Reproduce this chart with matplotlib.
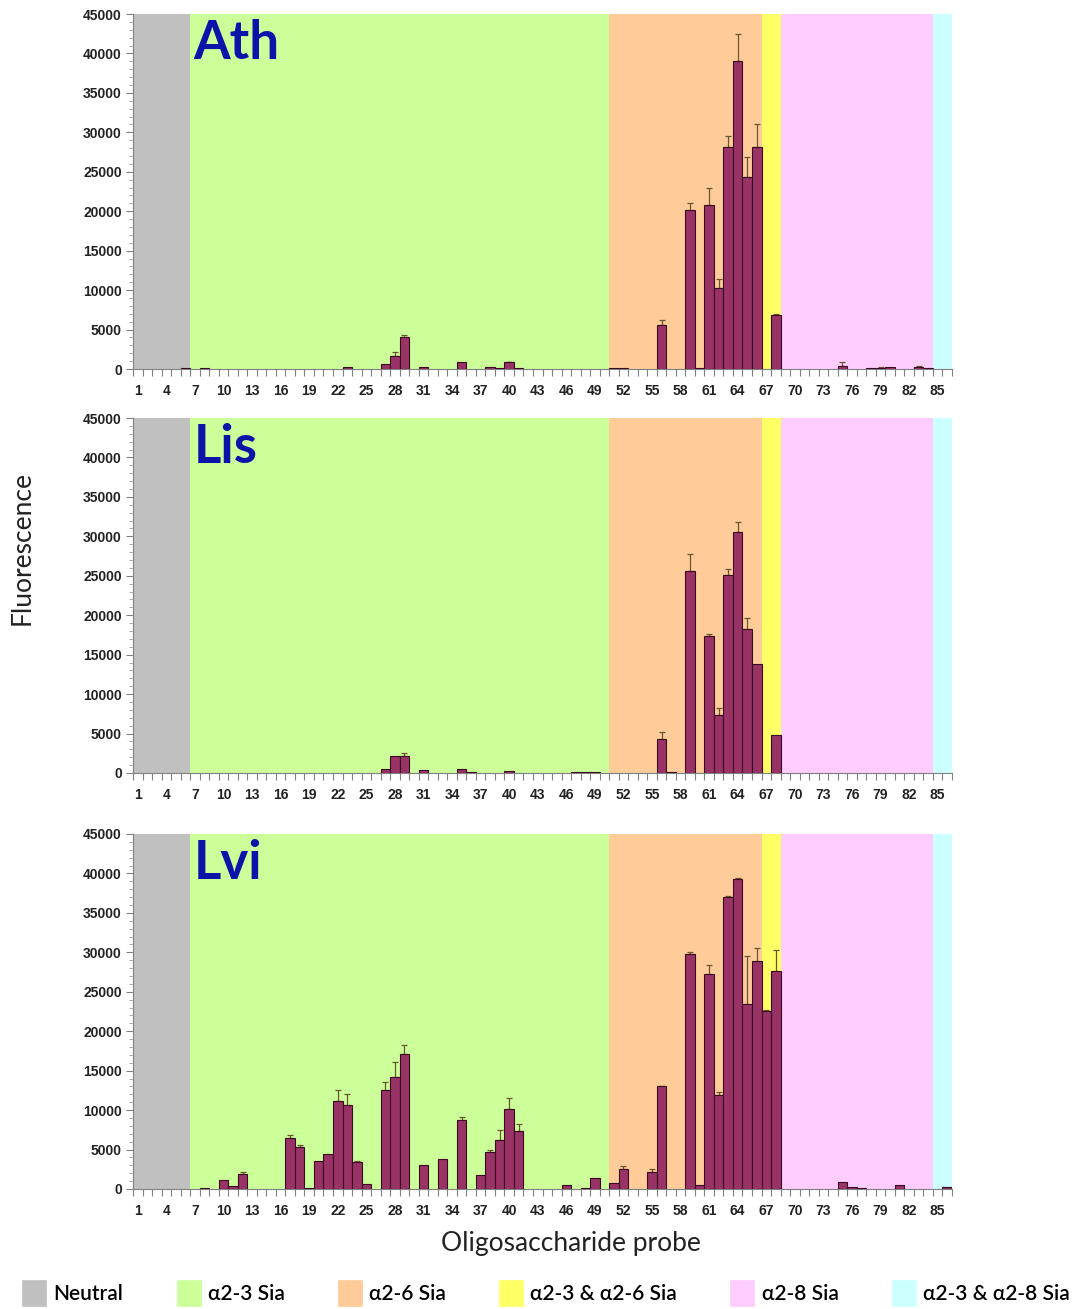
import numpy as np
import matplotlib
matplotlib.use("Agg")
import matplotlib.pyplot as plt
from matplotlib.patches import Patch
from matplotlib.ticker import MultipleLocator, FixedLocator

# ---------------- data ----------------
probes = np.arange(1, 87)

group_names = ["Neutral", "\u03b12-3 Sia", "\u03b12-6 Sia",
               "\u03b12-3 & \u03b12-6 Sia", "\u03b12-8 Sia", "\u03b12-3 & \u03b12-8 Sia"]
group_sizes = [6, 44, 16, 2, 16, 2]
group_colors = ["#c0c0c0", "#ccff99", "#ffcc99", "#ffff66", "#ffccff", "#ccffff"]

panel_names = ["Ath", "Lis", "Lvi"]

ath_mean = {6: 100, 8: 100, 23: 200, 27: 600, 28: 1650, 29: 4100, 31: 300, 35: 900,
            38: 200, 39: 80, 40: 850, 41: 100, 51: 100, 52: 120, 56: 5600, 59: 20200,
            60: 100, 61: 20800, 62: 10300, 63: 28100, 64: 39000, 65: 24300, 66: 28100,
            68: 6800, 75: 420, 78: 80, 79: 120, 80: 200, 83: 200, 84: 150}
ath_err = {28: 450, 29: 250, 40: 100, 56: 650, 59: 900, 61: 2100, 62: 1100, 63: 1400,
           64: 3500, 65: 2600, 66: 3000, 68: 200, 75: 500, 79: 100, 83: 200}

lis_mean = {27: 500, 28: 2100, 29: 2200, 31: 420, 35: 500, 36: 100, 40: 200, 47: 80,
            48: 80, 49: 80, 56: 4300, 57: 80, 59: 25600, 61: 17400, 62: 7300, 63: 25100,
            64: 30600, 65: 18300, 66: 13800, 68: 4800}
lis_err = {29: 300, 56: 850, 59: 2100, 61: 250, 62: 900, 63: 700, 64: 1250, 65: 1300}

lvi_mean = {8: 100, 10: 1170, 11: 420, 12: 1950, 17: 6500, 18: 5300, 19: 100, 20: 3550,
            21: 4500, 22: 11100, 23: 10700, 24: 3450, 25: 630, 27: 12500, 28: 14200,
            29: 17100, 31: 3000, 33: 3800, 35: 8750, 37: 1800, 38: 4700, 39: 6150,
            40: 10200, 41: 7300, 46: 450, 48: 100, 49: 1350, 51: 700, 52: 2580,
            55: 2200, 56: 13000, 59: 29800, 60: 550, 61: 27300, 62: 11900, 63: 37000,
            64: 39300, 65: 23400, 66: 28900, 67: 22600, 68: 27600, 75: 850, 76: 250,
            77: 120, 81: 550, 86: 250}
lvi_err = {12: 250, 17: 400, 18: 300, 22: 1500, 23: 1300, 24: 150, 27: 1100, 28: 1900,
           29: 1200, 35: 400, 38: 300, 39: 1300, 40: 1300, 41: 950, 52: 300, 55: 300,
           56: 100, 59: 300, 61: 1100, 62: 400, 63: 100, 64: 100, 65: 6100, 66: 1600,
           67: 150, 68: 2700}

means = [ath_mean, lis_mean, lvi_mean]
errs = [ath_err, lis_err, lvi_err]

xtick_labels = list(range(1, 86, 3))

# ---------------- figure ----------------
W, H = 1077, 1309
fig = plt.figure(figsize=(W / 100, H / 100), dpi=100)

ax_left = 133 / W
ax_width = (952 - 133) / W
ax_tops = [14, 418, 834]
ax_h = 355

bar_color = "#993366"
edge_color = "#3a0a22"
err_color = "#6b5530"
tick_font = dict(family="Liberation Sans", weight="bold", size=10)

for i, (name, mdict, edict) in enumerate(zip(panel_names, means, errs)):
    top = ax_tops[i]
    ax = fig.add_axes([ax_left, 1 - (top + ax_h) / H, ax_width, ax_h / H])
    # background groups
    start = 0.5
    for size, col in zip(group_sizes, group_colors):
        ax.axvspan(start, start + size, color=col, lw=0, zorder=0)
        start += size

    vals = np.array([mdict.get(p, 0) for p in probes], dtype=float)
    ev = np.array([edict.get(p, 0) for p in probes], dtype=float)
    mask = vals > 0
    ax.bar(probes[mask], vals[mask], width=1.0, color=bar_color,
           edgecolor=edge_color, linewidth=0.8, zorder=3)
    emask = ev > 0
    ax.errorbar(probes[emask], vals[emask],
                yerr=[np.zeros(emask.sum()), ev[emask]],
                fmt="none", ecolor=err_color, elinewidth=0.9, capsize=2.5,
                capthick=0.9, zorder=2.5)

    ax.set_xlim(0.5, 86.5)
    ax.set_ylim(0, 45000)
    ax.yaxis.set_major_locator(MultipleLocator(5000))
    ax.yaxis.set_minor_locator(MultipleLocator(1000))
    ax.set_xticks(xtick_labels)
    ax.set_xticklabels([str(v) for v in xtick_labels])
    ax.xaxis.set_minor_locator(FixedLocator(np.arange(0.5, 87, 1.0)))
    ax.tick_params(axis="x", which="major", length=0, pad=11, colors="#222222")
    ax.tick_params(axis="x", which="minor", length=5, width=0.8, color="#808080")
    ax.tick_params(axis="y", which="major", length=5, width=0.8, color="#808080",
                   labelcolor="#222222", pad=3)
    ax.tick_params(axis="y", which="minor", length=3, width=0.6, color="#a0a0a0")
    for lab in ax.get_xticklabels() + ax.get_yticklabels():
        lab.set_fontproperties(matplotlib.font_manager.FontProperties(**tick_font))
    for s in ["top", "right"]:
        ax.spines[s].set_visible(False)
    for s in ["left", "bottom"]:
        ax.spines[s].set_color("#808080")
        ax.spines[s].set_linewidth(0.8)
    ax.set_axisbelow(False)

    ax.text(0.074, 0.985, name, transform=ax.transAxes, ha="left", va="top",
            fontsize=38, fontweight="bold", color="#0a14a8",
            family=["Lato", "DejaVu Sans"], zorder=5)

fig.text(22 / W, 1 - 548 / H, "Fluorescence", rotation=90, ha="center", va="center",
         fontsize=19, family=["Lato", "DejaVu Sans"], color="#222222")
fig.text(571 / W, 1 - 1243 / H, "Oligosaccharide probe", ha="center", va="center",
         fontsize=19, family=["Lato", "DejaVu Sans"], color="#222222")

handles = [Patch(facecolor=c, edgecolor=c, linewidth=0.5) for c in group_colors]
fig.legend(handles, group_names, loc="center", bbox_to_anchor=(0.507, 1 - 1293 / H),
           ncol=6, frameon=False, handlelength=1.15, handleheight=1.5,
           handletextpad=0.35, columnspacing=2.55,
           prop=dict(family=["Lato", "DejaVu Sans"], weight="semibold", size=15))

fig.savefig("out.png", dpi=100)
